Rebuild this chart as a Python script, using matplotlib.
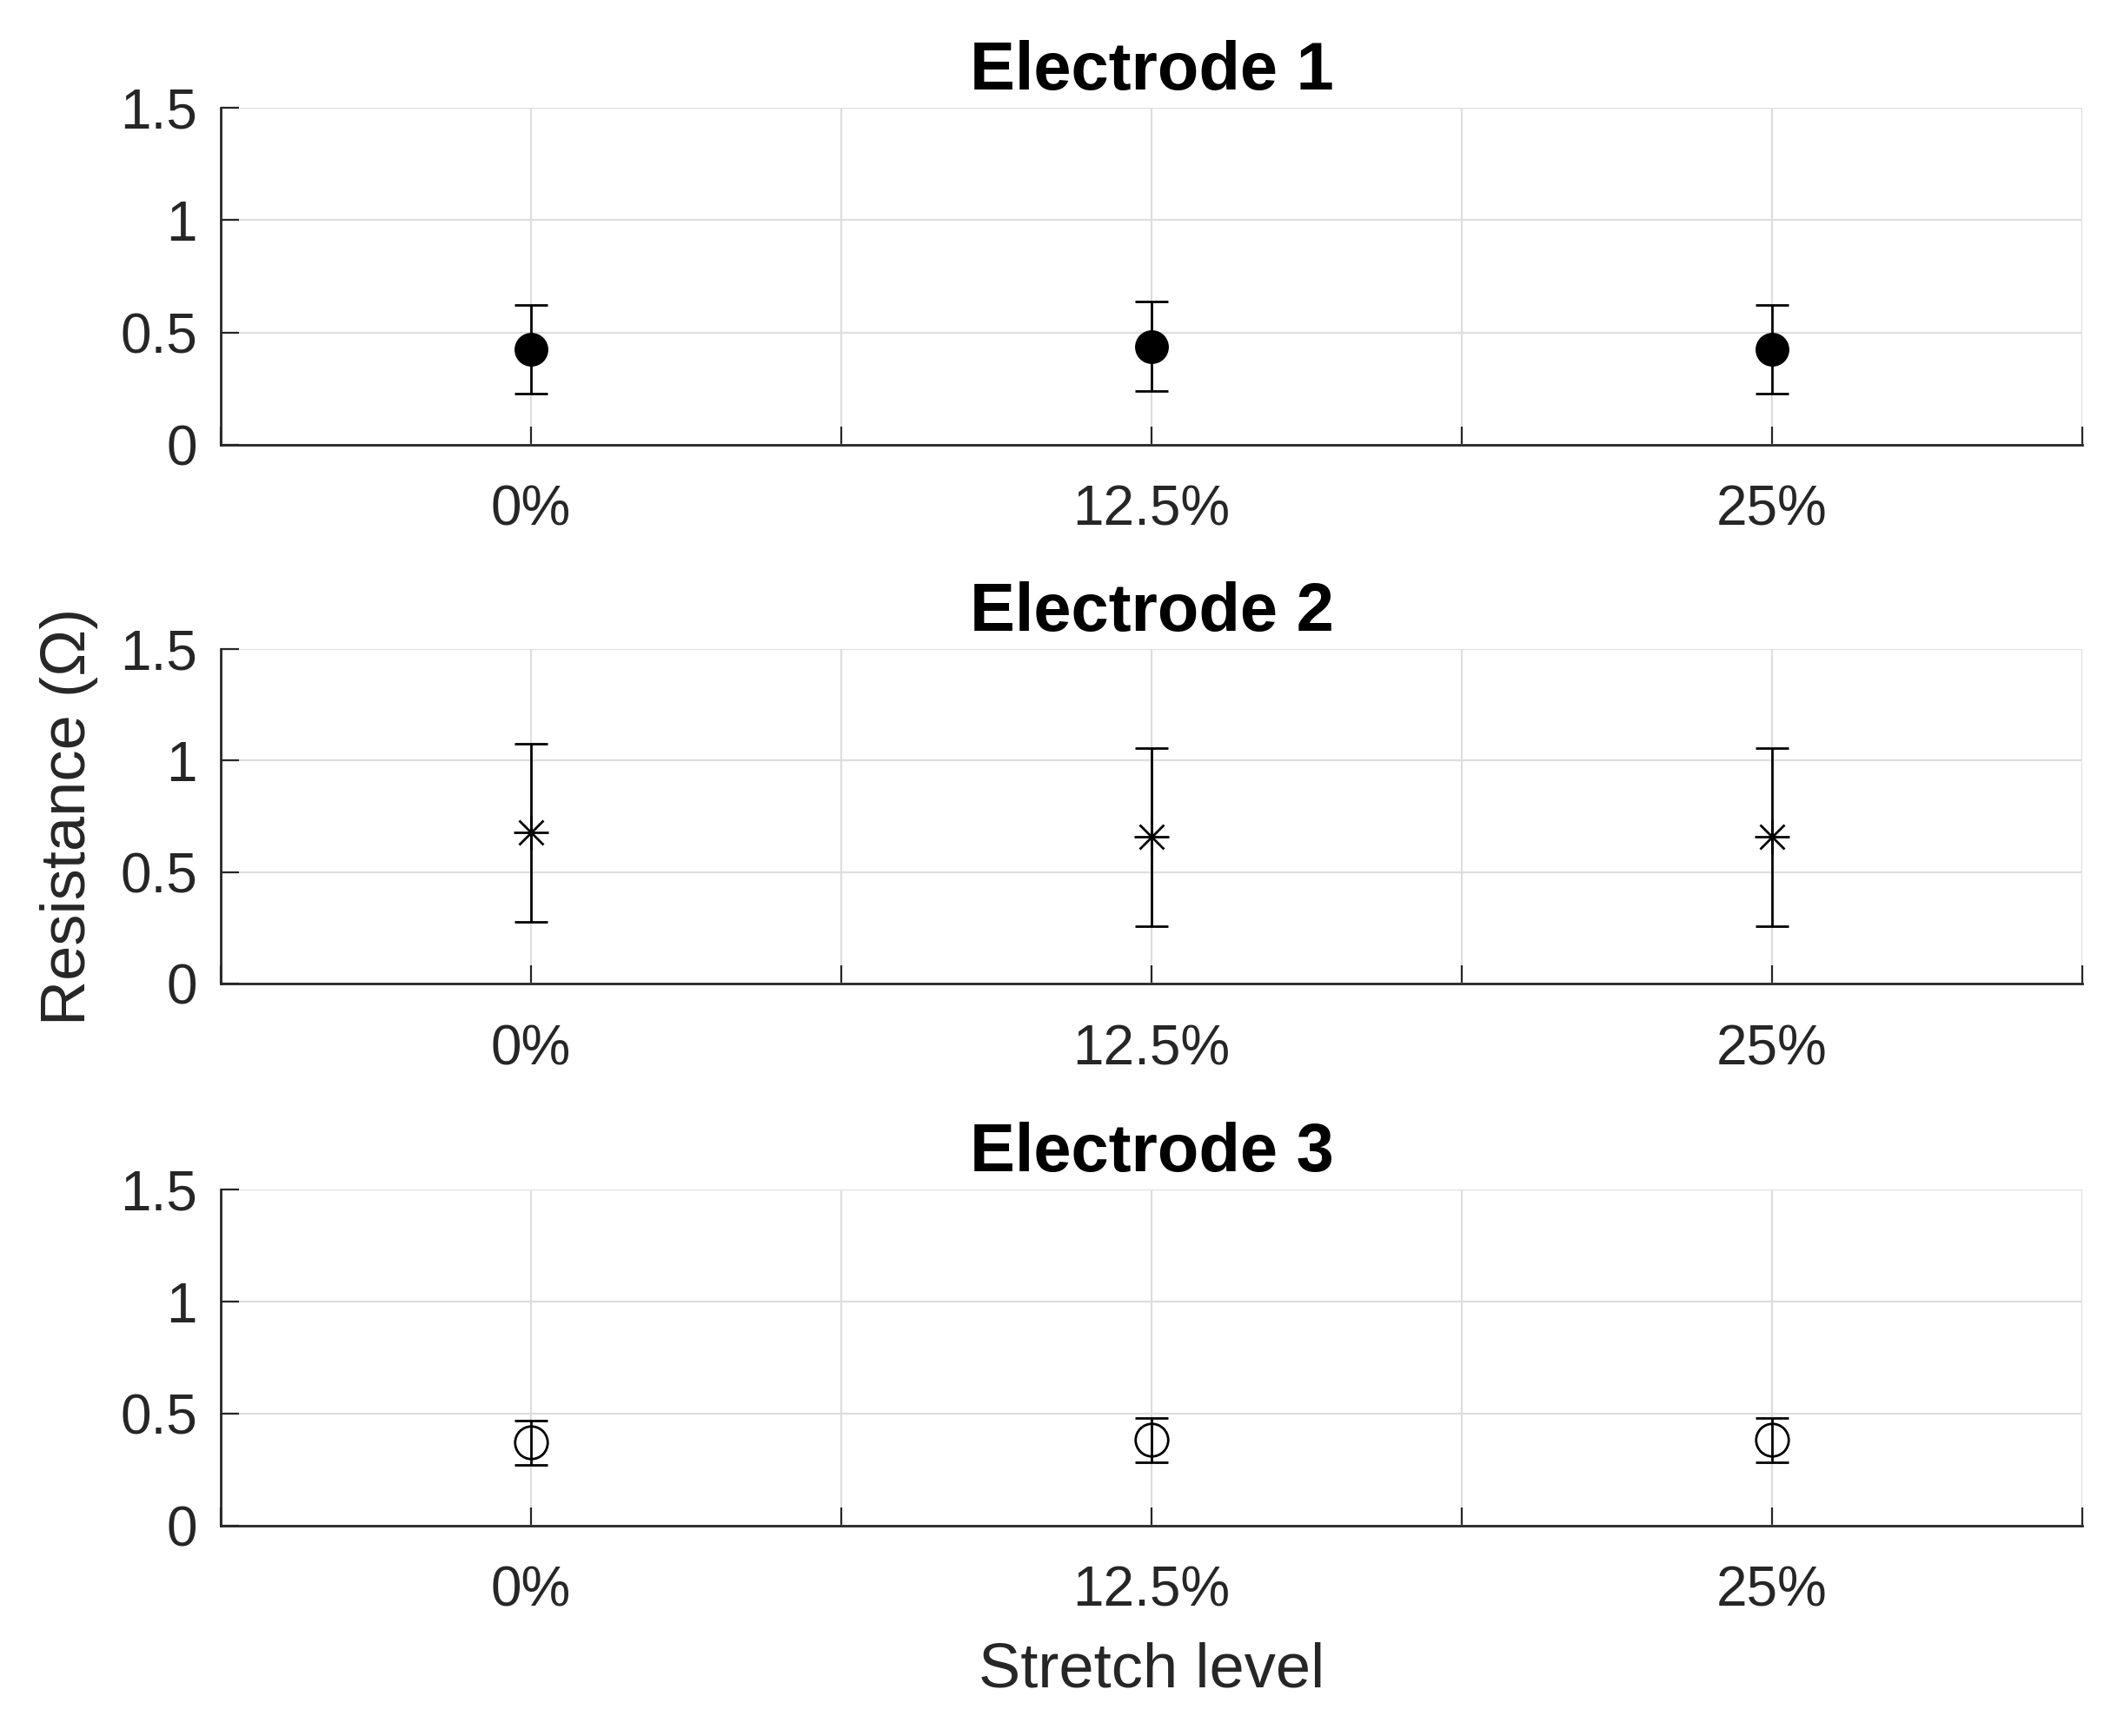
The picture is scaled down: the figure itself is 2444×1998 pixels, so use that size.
import matplotlib
matplotlib.use('Agg')
import matplotlib.pyplot as plt
import numpy as np

# stretch levels on the x axis
stretch_levels = ['0%', '12.5%', '25%']
electrode_names = ['Electrode 1', 'Electrode 2', 'Electrode 3']

# mean resistance and error (Ohm)
e1_mean = [0.425, 0.437, 0.425]
e1_err = [0.198, 0.199, 0.198]
e2_mean = [0.676, 0.657, 0.657]
e2_err = [0.400, 0.400, 0.400]
e3_mean = [0.370, 0.381, 0.381]
e3_err = [0.098, 0.100, 0.100]

y_ticks = [0, 0.5, 1, 1.5]
y_tick_labels = ['0', '0.5', '1', '1.5']

plt.rcParams['font.family'] = ['Liberation Sans', 'DejaVu Sans']
AX_COLOR = '#262626'


def style_axes(ax, title):
    """
    Matlab-like look: inward ticks, light grid, no box.
    """
    n = len(stretch_levels)
    ax.set_xlim(0.5, n + 0.5)
    ax.set_ylim(y_ticks[0], y_ticks[-1])

    ticks = np.arange(0.5, n + 0.51, 0.5)
    labels = []
    for t in ticks:
        if t == int(t) and 1 <= t <= n:
            labels.append(stretch_levels[int(t) - 1])
        else:
            labels.append('')
    ax.set_xticks(ticks)
    ax.set_xticklabels(labels)
    ax.set_yticks(y_ticks)
    ax.set_yticklabels(y_tick_labels)

    ax.grid(True, color='#dedede', linewidth=0.8)
    ax.set_axisbelow(True)
    for side in ['top', 'right']:
        ax.spines[side].set_visible(False)
    for side in ['left', 'bottom']:
        ax.spines[side].set_color(AX_COLOR)
        ax.spines[side].set_linewidth(1.0)

    ax.tick_params(axis='both', direction='in', length=7.7, width=0.8,
                   color=AX_COLOR, labelcolor=AX_COLOR, labelsize=23,
                   top=False, right=False)
    ax.tick_params(axis='x', pad=16.5)
    ax.tick_params(axis='y', pad=9.7)
    ax.set_title(title, fontsize=28, fontweight='bold', pad=7.5)


fig = plt.figure(figsize=(12.22, 9.99), dpi=200)
positions = [[0.1039, 0.7439, 0.8765, 0.1939],
             [0.1039, 0.4333, 0.8765, 0.1930],
             [0.1039, 0.1213, 0.8765, 0.1934]]
axes = [fig.add_axes(p) for p in positions]
x = np.arange(1, len(stretch_levels) + 1)

# Electrode 1 - filled circles
axes[0].errorbar(x, e1_mean, yerr=e1_err, fmt='o', color='k', ms=13,
                 elinewidth=1.0, capsize=7, capthick=1.0)

# Electrode 2 - asterisk (plus + cross)
axes[1].errorbar(x, e2_mean, yerr=e2_err, fmt='none', ecolor='k',
                 elinewidth=1.0, capsize=7, capthick=1.0)
axes[1].plot(x, e2_mean, linestyle='none', marker='+', ms=14.5,
             mew=1.0, color='k')
axes[1].plot(x, e2_mean, linestyle='none', marker='x', ms=10,
             mew=1.0, color='k')

# Electrode 3 - open circles
axes[2].errorbar(x, e3_mean, yerr=e3_err, fmt='o', color='k', ms=13.5,
                 mfc='none', mec='k', mew=1.0,
                 elinewidth=1.0, capsize=7, capthick=1.0)

for ax, name in zip(axes, electrode_names):
    style_axes(ax, name)

axes[1].set_ylabel('Resistance (\u03a9)', fontsize=26, color=AX_COLOR,
                   labelpad=9)
axes[2].set_xlabel('Stretch level', fontsize=26, color=AX_COLOR,
                   labelpad=10)

fig.savefig('out.png', dpi=200)
